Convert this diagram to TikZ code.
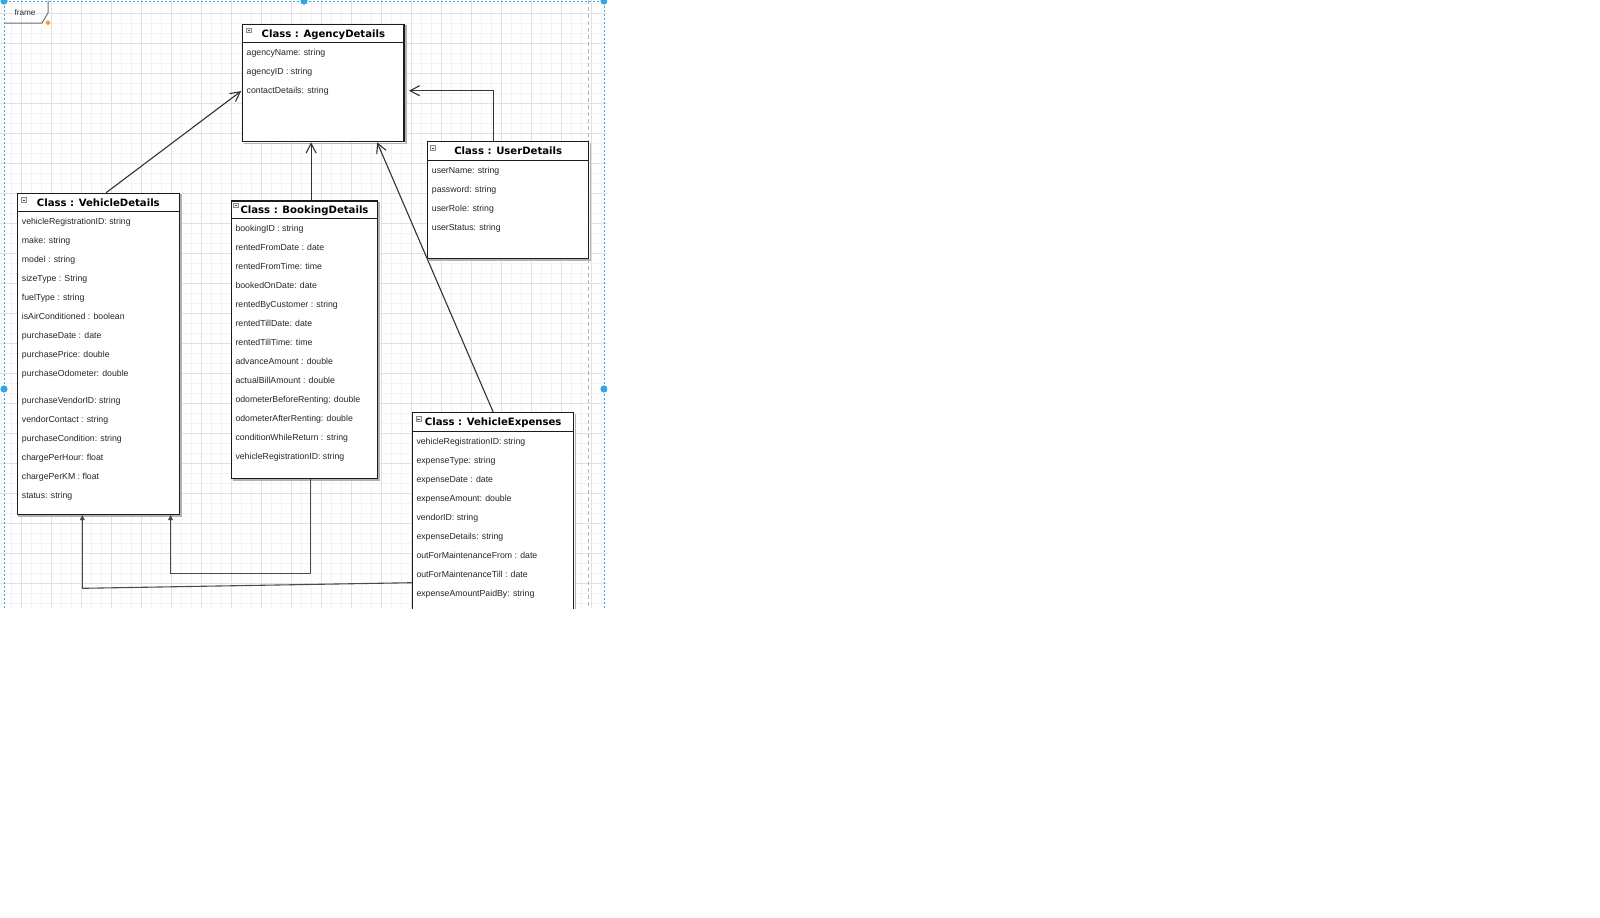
\documentclass[tikz,border=0pt]{standalone}
\usepackage{fontspec}
\setmainfont{Liberation Sans}
\newfontfamily\headfont{DejaVu Sans}
\usetikzlibrary{arrows.meta,calc,fit}

\definecolor{gridminor}{HTML}{F3F3F3}
\definecolor{gridmajor}{HTML}{E1E1E1}
\definecolor{selblue}{HTML}{4AA3D6}
\definecolor{handleblue}{HTML}{2EA8E6}
\definecolor{guidegray}{HTML}{B4B4B4}
\definecolor{boxline}{HTML}{1C1C1C}
\definecolor{edgecol}{HTML}{333333}
\definecolor{edgecoltwo}{HTML}{4A4A4A}
\definecolor{attrcol}{HTML}{262626}
\definecolor{tabgray}{HTML}{707070}
\definecolor{markorange}{HTML}{F3A21E}

\tikzset{
  minorgrid/.style={draw=gridminor, line width=0.5pt},
  majorgrid/.style={draw=gridmajor, line width=0.5pt},
  classbox/.style={draw=boxline, line width=0.6pt, fill=white, inner sep=0pt},
  boxshadow/.style={draw=black!30, line width=0.8pt},
  headrule/.style={draw=boxline, line width=0.6pt},
  headtext/.style={font=\headfont\bfseries\fontsize{5.05}{6}\selectfont, anchor=base, inner sep=0pt},
  attrtext/.style={font=\fontsize{4.37}{5}\selectfont, anchor=base west, inner sep=0pt, text=attrcol},
  assoc/.style={draw=edgecol, line width=0.55pt, -{Straight Barb[length=4.8pt,width=5pt,line width=0.55pt]}},
  dep/.style={draw=edgecoltwo, line width=0.55pt, -{Triangle[length=2.6pt,width=2.4pt]}},
  iconbox/.style={draw=black!45, fill=black!6, line width=0.35pt},
  iconmark/.style={draw=black!70, line width=0.4pt},
  selline/.style={draw=selblue, line width=0.5pt, dash pattern=on 1pt off 1pt},
  guideline/.style={draw=guidegray, line width=0.5pt, dash pattern=on 2pt off 1.5pt},
  tabline/.style={draw=tabgray, line width=0.5pt},
}

% collapse marker in the top-left corner of a class header
\newcommand\minusicon[1]{%
  \draw[iconbox] #1 rectangle ++(4.8,4.4);
  \draw[iconmark] #1 ++(1.1,2.2) -- ++(2.6,0);
}

% right/bottom shadow of a class box
\newcommand\boxshade[1]{%
  \draw[boxshadow] ($(#1.north east)+(1.2,1.5)$) -- ($(#1.south east)+(1.2,1.2)$) -- ($(#1.south west)+(1.5,1.2)$);
}

\begin{document}
\begin{tikzpicture}[x=0.5pt,y=-0.5pt]
\useasboundingbox[fill=white] (0,0) rectangle (1600,917);

\begin{scope}
\clip (0,0) rectangle (607,608);

% canvas grid: fine lines every 10px, stronger ones every 30px
\foreach \k in {0,...,61} \draw[minorgrid] ({1.7+10*\k},0) -- ++(0,608);
\foreach \k in {0,...,61} \draw[minorgrid] (0,{3.3+10*\k}) -- ++(607,0);
\foreach \k in {0,...,20} \draw[majorgrid] ({21.7+30*\k},0) -- ++(0,608);
\foreach \k in {0,...,20} \draw[majorgrid] (0,{13.3+30*\k}) -- ++(607,0);

% guide line
\draw[guideline] (588,0) -- (588,608);

% frame tab and label
\draw[tabline] (48,1) -- (48,13) -- (42,23) -- (4,23);
\node[font=\fontsize{4.1}{5}\selectfont, text=black!80, inner sep=0pt] (framelabel) at (25,12.7) {frame};

% ---------- class boxes ----------
\node[classbox, fit={(242.7,24.3) (404,141.7)}] (ag) {};
\node[classbox, fit={(427.7,141.7) (588.7,258.3)}] (ud) {};
\node[classbox, fit={(17.3,193.3) (179.3,514.3)}] (vd) {};
\node[classbox, fit={(231.7,201) (377.3,478.3)}] (bd) {};
\node[classbox, fit={(412.7,412.7) (573.7,660)}] (ve) {};

\boxshade{ag}
\boxshade{ud}
\boxshade{vd}
\boxshade{bd}
\boxshade{ve}

% header separators
\draw[headrule] ($(ag.north west)+(0,19)$) -- ($(ag.north east)+(0,19)$);
\draw[headrule] ($(ud.north west)+(0,19)$) -- ($(ud.north east)+(0,19)$);
\draw[headrule] ($(vd.north west)+(0,19)$) -- ($(vd.north east)+(0,19)$);
\draw[headrule] ($(bd.north west)+(0,18.3)$) -- ($(bd.north east)+(0,18.3)$);
\draw[headrule] ($(ve.north west)+(0,19)$) -- ($(ve.north east)+(0,19)$);

% collapse markers
\minusicon{($(ag.north west)+(4.5,4.6)$)}
\minusicon{($(ud.north west)+(3.6,4.6)$)}
\minusicon{($(vd.north west)+(4.7,5)$)}
\minusicon{($(bd.north west)+(2.3,3)$)}
\minusicon{($(ve.north west)+(4,4.6)$)}

% titles
\node[headtext] (ag-title) at ($(ag.north)+(0,13.6)$) {Class : AgencyDetails};
\node[headtext] (ud-title) at ($(ud.north)+(0,13.6)$) {Class : UserDetails};
\node[headtext] (vd-title) at ($(vd.north)+(0,13.6)$) {Class : VehicleDetails};
\node[headtext] (bd-title) at ($(bd.north)+(0,13.3)$) {Class : BookingDetails};
\node[headtext] (ve-title) at ($(ve.north)+(0,13.6)$) {Class : VehicleExpenses};

% attributes
\foreach \t [count=\i] in {agencyName: string, agencyID : string, contactDetails: string}
  \node[attrtext] (ag-\i) at ($(ag.north west)+(4.2,{32.2+19*(\i-1)})$) {\t};

\foreach \t [count=\i] in {userName: string, password: string, userRole: string, userStatus: string}
  \node[attrtext] (ud-\i) at ($(ud.north west)+(4.4,{32.2+19*(\i-1)})$) {\t};

\foreach \t [count=\i] in {vehicleRegistrationID: string, make: string, model : string, sizeType : String, fuelType : string, isAirConditioned : boolean, purchaseDate : date, purchasePrice: double, purchaseOdometer: double}
  \node[attrtext] (vd-\i) at ($(vd.north west)+(4.8,{32.2+19*(\i-1)})$) {\t};
\foreach \t [count=\i] in {purchaseVendorID: string, vendorContact : string, purchaseCondition: string, chargePerHour: float, chargePerKM : float, status: string}
  \node[attrtext] (vd-b\i) at ($(vd.north west)+(4.8,{210.9+19*(\i-1)})$) {\t};

\foreach \t [count=\i] in {bookingID : string, rentedFromDate : date, rentedFromTime: time, bookedOnDate: date, rentedByCustomer : string, rentedTillDate: date, rentedTillTime: time, advanceAmount : double, actualBillAmount : double, odometerBeforeRenting: double, odometerAfterRenting: double, conditionWhileReturn : string, vehicleRegistrationID: string}
  \node[attrtext] (bd-\i) at ($(bd.north west)+(4,{31.2+19*(\i-1)})$) {\t};

\foreach \t [count=\i] in {vehicleRegistrationID: string, expenseType: string, expenseDate : date, expenseAmount: double, vendorID: string, expenseDetails: string, outForMaintenanceFrom : date, outForMaintenanceTill : date, expenseAmountPaidBy: string}
  \node[attrtext] (ve-\i) at ($(ve.north west)+(4,{32.2+19*(\i-1)})$) {\t};

% ---------- connectors ----------
\draw[assoc] ($(vd.north west)+(89.4,0)$) -- ($(ag.north west)+(-1,67.4)$);
\draw[assoc] ($(bd.north west)+(80,0)$) -- ($(ag.south west)+(69,0)$);
\draw[assoc] (ve.north) -- ($(ag.south west)+(135,0)$);
\draw[assoc] ($(ud.north west)+(66.3,0)$) |- ($(ag.north east)+(4.3,67)$);
\draw[dep] ($(bd.south west)+(79.5,0)$) |- ($(vd.south west)+(153.9,59)$) -- ($(vd.south west)+(153.9,0)$);
\draw[dep] ($(ve.north west)+(0,170.6)$) -- ($(vd.south west)+(65.6,73.4)$) -- ($(vd.south west)+(65.6,0)$);

% frame selection outline, marker and handles
\draw[selline] (4,608) -- (4,1) -- (604,1) -- (604,608);
\fill[markorange] (48,20) -- (50.6,22.7) -- (48,25.4) -- (45.4,22.7) -- cycle;
\foreach \p in {(4,1),(304,1),(604,1),(4,389),(604,389)}
  \fill[handleblue] \p circle (3.6);
\end{scope}
\end{tikzpicture}
\end{document}
